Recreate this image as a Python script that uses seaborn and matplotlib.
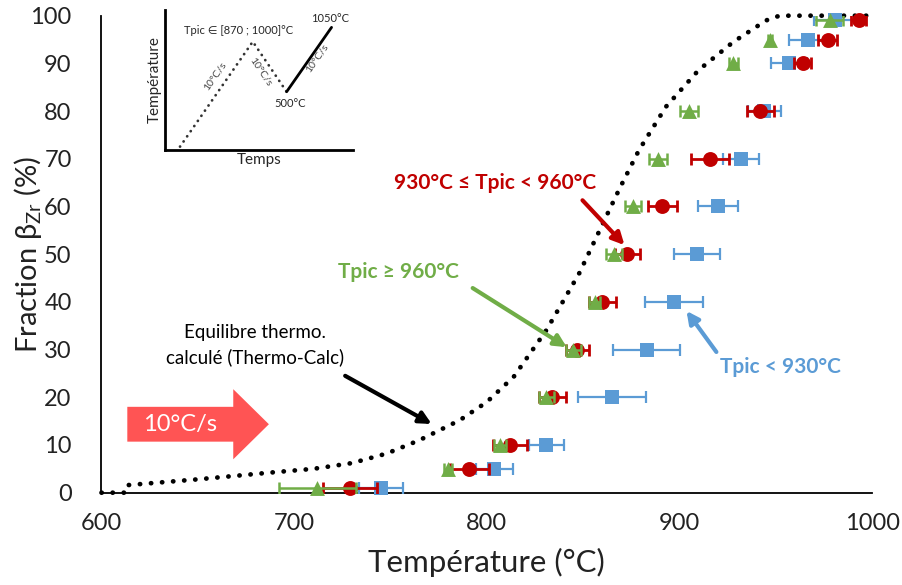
import matplotlib
matplotlib.use("Agg")
import matplotlib.pyplot as plt
import matplotlib.patches as mpatches
import numpy as np
import pandas as pd
import seaborn as sns

# beta fraction levels (%) shared by the three series
fraction = [1, 5, 10, 20, 30, 40, 50, 60, 70, 80, 90, 95, 99]

# Tpic < 930 C
temp_low = [745, 804, 831, 865, 883, 897, 909, 920, 932, 944, 957, 967, 981]
err_low = [11.5, 9.5, 9, 17.5, 17.5, 15, 12, 10.5, 9.3, 8.5, 9.2, 10, 11]

# 930 C <= Tpic < 960 C
temp_mid = [729, 791, 812, 834, 847, 860, 873, 891, 916, 942, 964, 977, 993]
err_mid = [14, 10, 9, 7, 6, 7, 6.5, 7.5, 10, 7, 4.5, 5, 4]

# Tpic >= 960 C
temp_high = [712, 780, 807, 831, 845, 856, 866, 876, 889, 905, 928, 947, 978]
err_high = [20, 2, 3, 4, 4, 3, 4, 4.3, 4.8, 4.7, 2.5, 1, 7]

# Thermo-Calc equilibrium
eq_temp = [600, 613, 614, 650, 690, 710, 730, 748, 765, 786, 800, 814, 831,
           848, 862, 869, 879, 893, 910, 928, 945, 952, 1000]
eq_frac = [0, 0, 1.6, 2.8, 4.3, 5.0, 6.2, 8.2, 11, 15.2, 19, 24.3, 34.1,
           46, 57.9, 63.8, 71.8, 80.9, 88.6, 94.5, 99, 100, 100]

# inset schematic (normalised time / temperature)
inset_time_heat = [0.08, 0.467, 0.647]
inset_temp_heat = [0.024, 0.774, 0.416]
inset_time_reheat = [0.647, 0.886]
inset_temp_reheat = [0.416, 0.876]

RED = "#C00000"
BLUE = "#5B9BD5"
GREEN = "#70AD47"
TEXT = "#222222"

sns.set_theme(style="white")
plt.rcParams["font.family"] = ["Lato", "DejaVu Sans"]
plt.rcParams["mathtext.fontset"] = "custom"
plt.rcParams["mathtext.rm"] = "Lato"
plt.rcParams["mathtext.it"] = "Lato:italic"

fig = plt.figure(figsize=(9.03, 5.85), dpi=100)
ax = fig.add_axes([0.1124, 0.1578, 0.8533, 0.8154])

eq_df = pd.DataFrame({"T": eq_temp, "F": eq_frac})
sns.lineplot(data=eq_df, x="T", y="F", ax=ax, color="black", lw=3.4,
             linestyle=(0, (0.05, 2.3)), dash_capstyle="round", sort=False,
             estimator=None, clip_on=False, zorder=2)

series = [
    (temp_low, err_low, BLUE, "s", 90, 1.6),
    (temp_mid, err_mid, RED, "o", 115, 2.0),
    (temp_high, err_high, GREEN, "^", 115, 1.8),
]
for i, (temps, errs, color, marker, size, lw) in enumerate(series):
    ax.errorbar(temps, fraction, xerr=errs, fmt="none", ecolor=color,
                elinewidth=lw, capsize=4, capthick=lw, zorder=3 + 2 * i)
    df = pd.DataFrame({"T": temps, "F": fraction})
    sns.scatterplot(data=df, x="T", y="F", ax=ax, color=color, marker=marker,
                    s=size, linewidth=0, zorder=4 + 2 * i, clip_on=False)

ax.set_xlim(600, 1000)
ax.set_ylim(0, 100)
ax.set_xticks(range(600, 1001, 100))
ax.set_yticks(range(0, 101, 10))
for side in ["top", "right"]:
    ax.spines[side].set_visible(False)
for side in ["left", "bottom"]:
    ax.spines[side].set_color("black")
    ax.spines[side].set_linewidth(1.3)
ax.tick_params(axis="both", direction="inout", length=13, width=1.3,
               color="black", labelsize=17, labelcolor=TEXT)
ax.tick_params(axis="x", pad=8)
ax.tick_params(axis="y", pad=15)
ax.set_xlabel("Température (°C)", fontsize=22.5, color=TEXT, labelpad=10)
ax.set_ylabel("Fraction β$_\\mathrm{Zr}$ (%)", fontsize=21, color=TEXT)
ax.yaxis.set_label_coords(-0.074, 0.5)

# big heating-rate arrow
arrow_pts = [(613.4, 10.7), (668.4, 10.7), (668.4, 7.0), (686.9, 14.35),
             (668.4, 21.7), (668.4, 18.0), (613.4, 18.0)]
ax.add_patch(mpatches.Polygon(arrow_pts, closed=True, facecolor="#FF5454",
                              edgecolor="none", zorder=2))
ax.text(640.7, 14.35, "10°C/s", color="white", fontsize=17, ha="center",
        va="center", zorder=3)

arrow_kw = dict(arrowstyle="-|>", mutation_scale=18, shrinkA=0, shrinkB=0)
ax.annotate("", xy=(871.5, 51.9), xytext=(849.7, 61.3),
            arrowprops=dict(color=RED, lw=3, **arrow_kw), zorder=8)
ax.text(804.1, 64.9, "930°C ≤ Tpic < 960°C", fontsize=15, fontweight="bold",
        color=RED, ha="center", va="center")
ax.annotate("", xy=(841.5, 30.5), xytext=(792.7, 42.9),
            arrowprops=dict(color=GREEN, lw=3, **arrow_kw), zorder=8)
ax.text(754.3, 46.3, "Tpic ≥ 960°C", fontsize=15, fontweight="bold",
        color=GREEN, ha="center", va="center")
ax.annotate("", xy=(903.7, 38.1), xytext=(919.2, 29.5),
            arrowprops=dict(color=BLUE, lw=3, **arrow_kw), zorder=8)
ax.text(952.5, 26.4, "Tpic < 930°C", fontsize=15, fontweight="bold",
        color=BLUE, ha="center", va="center")
ax.annotate("", xy=(771.4, 14.4), xytext=(726.5, 24.5),
            arrowprops=dict(color="black", lw=3, **arrow_kw), zorder=8)
ax.text(679.6, 30.9, "Equilibre thermo.\ncalculé (Thermo-Calc)", fontsize=13.5,
        color="black", ha="center", va="center", linespacing=1.45)

# inset: thermal cycle schematic
ins = fig.add_axes([0.1827, 0.7436, 0.2082, 0.2393])
ins.set_facecolor("none")
sns.lineplot(x=inset_time_heat, y=inset_temp_heat, ax=ins, color="#333333",
             lw=2, linestyle=(0, (0.05, 2.2)), dash_capstyle="round",
             sort=False, estimator=None)
sns.lineplot(x=inset_time_reheat, y=inset_temp_reheat, ax=ins, color="black",
             lw=2, sort=False, estimator=None)
ins.set_xlim(0, 1)
ins.set_ylim(0, 1)
ins.set_xticks([])
ins.set_yticks([])
for side in ["top", "right"]:
    ins.spines[side].set_visible(False)
for side in ["left", "bottom"]:
    ins.spines[side].set_color("black")
    ins.spines[side].set_linewidth(2)
ins.set_xlabel("Temps", fontsize=11, labelpad=2)
ins.set_ylabel("Température", fontsize=11, labelpad=2)
ins.text(0.39, 0.857, "Tpic ∈ [870 ; 1000]°C", fontsize=8, ha="center",
         va="center")
ins.text(0.265, 0.53, "10°C/s", fontsize=7.5, rotation=55, ha="center",
         va="center", color="#444444")
ins.text(0.51, 0.56, "10°C/s", fontsize=7.5, rotation=-56, ha="center",
         va="center", color="#444444")
ins.text(0.81, 0.655, "10°C/s", fontsize=7.5, rotation=55, ha="center",
         va="center", color="#444444")
ins.text(0.665, 0.333, "500°C", fontsize=8, ha="center", va="center")
ins.text(0.878, 0.94, "1050°C", fontsize=8, ha="center", va="center")

fig.savefig("out.png", dpi=100)
